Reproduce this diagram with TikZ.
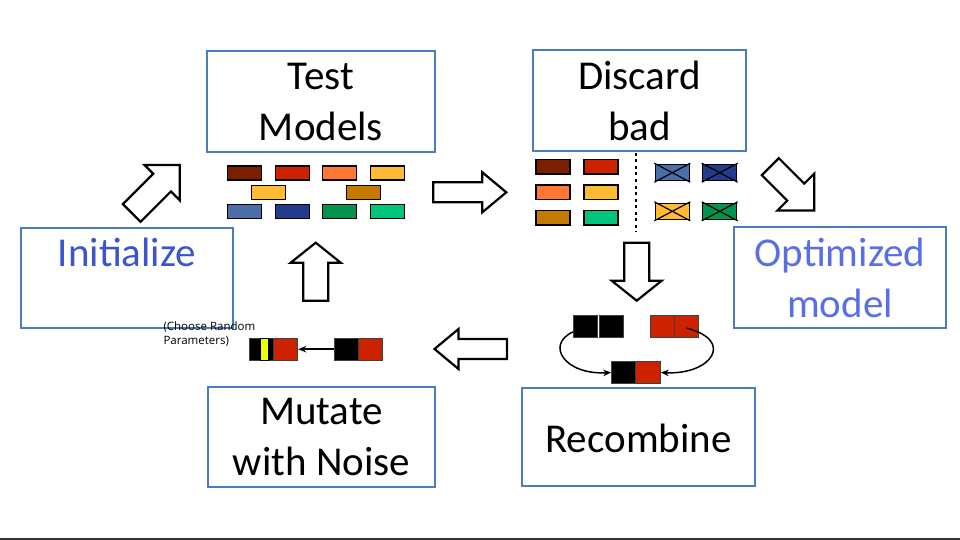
\documentclass[tikz,border=0pt]{standalone}
\usepackage{fontspec}
\usepackage{xcolor}
\setmainfont{Carlito}
\newfontfamily\notefont{Open Sans}
\usetikzlibrary{arrows.meta}

\definecolor{boxblue}{HTML}{4A7EBB}
\definecolor{initblue}{HTML}{3D55CC}
\definecolor{optblue}{HTML}{5A6EE6}
\definecolor{cbrown}{HTML}{7A1E00}
\definecolor{cred}{HTML}{CC2200}
\definecolor{corange}{HTML}{FF7733}
\definecolor{cgold}{HTML}{FFBB33}
\definecolor{cochre}{HTML}{C47A00}
\definecolor{csteel}{HTML}{4A6EAA}
\definecolor{cnavy}{HTML}{223B8A}
\definecolor{cgreen}{HTML}{00944F}
\definecolor{cmint}{HTML}{00C47C}
\definecolor{cyellow}{HTML}{EEFF00}

\begin{document}
\begin{tikzpicture}[x=1pt, y=-1pt,
    stepbox/.style={draw=boxblue, line width=1.7pt, inner sep=0pt, font=\fontsize{41}{51}\selectfont},
    brick/.style={draw=black, line width=1.5pt},
    blockarrow/.style={draw=black, fill=white, line width=2.2pt, line join=miter},
    gene/.style={draw=black!75, line width=1pt, minimum width=24.4pt, minimum height=21.8pt, inner sep=0pt},
    link/.style={-{Stealth[length=8pt, width=6.5pt]}, line width=1.5pt}]
    \useasboundingbox (0,0) rectangle (960,540);

    % the five steps
    \node[stepbox, align=center, minimum width=228pt, minimum height=101pt] (test) at (321,101.5) {Test\\Models};
    \node[stepbox, align=center, minimum width=213pt, minimum height=101pt] (discard) at (639.5,100.5) {Discard\\bad};
    \node[stepbox, text=initblue, minimum width=212pt, text height=38.7pt, text depth=61.3pt] (init) at (127,278) {Initialize};
    \node[stepbox, align=center, text=optblue, minimum width=212pt, minimum height=101pt] (optimum) at (840,277.5) {Optimized\\model};
    \node[stepbox, align=center, minimum width=227pt, minimum height=100pt] (mutate) at (321.5,437) {Mutate\\with Noise};
    \node[stepbox, minimum width=233pt, text height=64.7pt, text depth=33.3pt] (recomb) at (638.5,437) {Recombine};
    \node[anchor=north west, inner sep=0pt, align=left, font=\notefont\fontsize{11.5}{13.8}\selectfont] (note) at (163.3,322) {(Choose Random\\Parameters)};

    % big hollow arrows
    \draw[blockarrow, shift={(131.7,213)}, rotate=45] (0,-12.5) -- (43,-12.5) -- (43,-25) -- (68,0) -- (43,25) -- (43,12.5) -- (0,12.5) -- cycle;
    \draw[blockarrow, shift={(433.3,192.3)}] (0,-10) -- (49,-10) -- (49,-20) -- (73,0) -- (49,20) -- (49,10) -- (0,10) -- cycle;
    \draw[blockarrow, shift={(770.3,166.7)}, rotate=-45] (0,-12) -- (36,-12) -- (36,-26) -- (62,0) -- (36,26) -- (36,12) -- (0,12) -- cycle;
    \draw[blockarrow, shift={(636.7,242.7)}, rotate=-90] (0,-12.5) -- (38,-12.5) -- (38,-25) -- (58,0) -- (38,25) -- (38,12.5) -- (0,12.5) -- cycle;
    \draw[blockarrow, shift={(507,349)}, rotate=180] (0,-10) -- (48.5,-10) -- (48.5,-20) -- (72.5,0) -- (48.5,20) -- (48.5,10) -- (0,10) -- cycle;
    \draw[blockarrow, shift={(315.7,300.7)}, rotate=90] (0,-12.5) -- (38,-12.5) -- (38,-25) -- (58,0) -- (38,25) -- (38,12.5) -- (0,12.5) -- cycle;

    % population under test
    \foreach \x/\y/\c in {227.7/166/cbrown, 275.3/166/cred, 322.7/166/corange, 370.3/166/cgold,
                          251.7/185.3/cgold, 346.7/185.3/cochre,
                          227.7/204.3/csteel, 275.3/204.3/cnavy, 322.7/204.3/cgreen, 370.3/204.3/cmint}
        \filldraw[brick, fill=\c] (\x,\y) rectangle ++(34,14);

    % kept and discarded ones
    \foreach \x/\y/\c in {536/159.3/cbrown, 584/159.3/cred, 536/185/corange, 584/185/cgold, 536/210.7/cochre, 584/210.7/cmint}
        \filldraw[brick, fill=\c] (\x,\y) rectangle ++(34,14.5);
    \draw[line width=2pt, dash pattern=on 3pt off 3.5pt] (636.3,153) -- (636.3,231.7);
    \foreach \x/\y/\c in {655.3/164.7/csteel, 702.7/164.7/cnavy, 655.3/203.3/cgold, 702.7/203.3/cgreen} {
        \filldraw[brick, fill=\c] (\x,\y) rectangle ++(34,16);
        \draw[line width=1.2pt] (\x-1,\y-1.5) -- ++(36,19) (\x+35,\y-1.5) -- ++(-36,19);
    }

    % recombination
    \node[gene, fill=black] (parA1) at (585.6,326.2) {};
    \node[gene, fill=black] (parA2) at (611.4,326.2) {};
    \node[gene, fill=cred] (parB1) at (662.2,326.2) {};
    \node[gene, fill=cred] (parB2) at (686.4,326.2) {};
    \node[gene, fill=black] (kidA) at (623.9,372.5) {};
    \node[gene, fill=cred] (kidB) at (648.1,372.5) {};
    \draw[link] ([yshift=-5.7pt]parA1.west) .. controls (545,345) and (565,375) .. (kidA.west);
    \draw[link] ([yshift=-2pt]parB2.center) .. controls (735,340) and (712,375) .. (kidB.east);

    % mutation
    \node[gene, fill=black] (mutA) at (261.2,349.2) {};
    \node[gene, fill=cred] (mutB) at (285.5,349.2) {};
    \node[gene, fill=cyellow, draw=black, minimum width=7.3pt] (mutY) at (264.6,349.2) {};
    \node[gene, fill=black] (origA) at (346.3,349.2) {};
    \node[gene, fill=cred] (origB) at (370.6,349.2) {};
    \draw[link] (origA.west) -- (mutB.east);

    \draw[line width=1.5pt, black!80] (0,538.8) -- (960,538.8);
\end{tikzpicture}
\end{document}
